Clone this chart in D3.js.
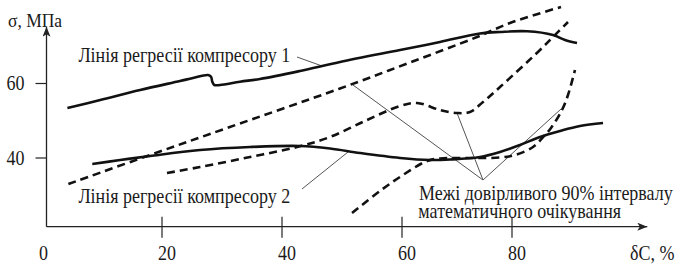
<!DOCTYPE html>
<html>
<head>
<meta charset="utf-8">
<script src="https://cdn.jsdelivr.net/npm/d3@7/dist/d3.min.js"></script>
<style>
  html, body { margin: 0; padding: 0; background: #fff; }
  svg { display: block; }
  text { font-family: "Liberation Serif", "Times New Roman", serif; fill: #1a1a1a; }
</style>
</head>
<body>
<svg id="chart" width="680" height="265"></svg>
<script>
// ---- data (x = δC, %, y = σ, МПа) ----
const xTickValues = [20, 40, 60, 80];
const xTickLabels = ["0", "20", "40", "60", "80"];
const xLabelValues = [0, 20, 40, 60, 80];
const yTickValues = [40, 60];
const yTickLabels = ["40", "60"];

const regression1 = [
  [3.62, 53.4], [9.31, 55.57], [16.21, 58.26], [23.0, 60.67], [25.17, 61.48],
  [27.67, 62.28], [28.17, 61.83], [28.38, 60.48], [28.72, 59.6], [29.67, 59.6],
  [33.0, 60.48], [36.33, 61.21], [43.0, 63.36], [49.67, 65.77], [59.67, 68.99],
  [66.91, 71.14], [74.18, 73.42], [77.82, 73.83], [82.73, 74.01], [87.45, 73.02],
  [89.64, 71.68], [91.82, 70.87]
];
const regression2 = [
  [7.93, 38.39], [12.76, 39.46], [17.93, 40.54], [26.33, 42.15], [34.67, 42.95],
  [43.0, 43.22], [48.0, 42.55], [53.0, 41.34], [59.67, 40.0], [65.09, 39.46],
  [68.73, 39.6], [74.18, 40.27], [77.82, 41.61], [81.45, 43.49], [85.09, 45.64],
  [88.73, 47.25], [92.36, 48.59], [96.55, 49.4]
];
const boundA = [
  [3.79, 33.02], [17.93, 40.81], [30.83, 48.05], [49.67, 58.66], [61.45, 65.64],
  [73.64, 72.48], [79.64, 76.24], [88.91, 80.54]
];
const boundB = [
  [20.83, 35.97], [26.33, 37.58], [34.67, 40.27], [42.5, 42.95], [48.0, 45.64],
  [54.17, 50.2], [59.67, 53.96], [62.73, 54.77], [66.91, 52.89], [70.0, 52.08],
  [72.36, 52.35], [74.73, 55.03], [77.82, 59.06], [85.09, 68.99], [87.27, 72.21],
  [90.18, 76.51]
];
const boundC = [
  [51.67, 25.23], [56.33, 31.14], [60.18, 35.44], [64.55, 39.19], [66.91, 39.87],
  [72.36, 40.0], [77.82, 40.13], [80.55, 40.81], [83.82, 42.95], [86.0, 46.17],
  [87.09, 48.05], [89.09, 52.89], [90.18, 56.91], [91.45, 63.62]
];

// leader lines: [from, to] in data units
const leaders = [
  [[42.5, 67.11], [46.67, 64.7]],
  [[43.33, 31.68], [51.0, 41.61]],
  [[74.73, 34.09], [51.83, 59.6]],
  [[74.73, 34.09], [70.0, 52.08]],
  [[74.73, 34.09], [88.91, 53.15]]
];
const label1 = "Лінія регресії компресору 1";
const label2 = "Лінія регресії компресору 2";
const label3Lines = ["Межі довірливого 90% інтервалу", "математичного очікування"];
const label1At = [5.52, 65.77];
const label2At = [5.52, 27.92];
const label3At = [63.1, 28.72];
const yAxisTitle = "σ, МПа";
const xAxisTitle = "δC, %";
const yAxisRange = [21.56, 75.25];
const xAxisEnd = 104.6;

// ---- scales ----
const svg = d3.select("#chart");
const x = d3.scaleLinear().domain([0, 20, 40, 60, 80, 100]).range([46.5, 162, 282, 402, 512, 622]);
const y = d3.scaleLinear().domain([20, 80]).range([232.5, 9]);

const axisColor = "#222";
const fs = 18, vStretch = 1.13;

// helper: text placed at (px, py) with slight vertical stretch like the scanned original
function addText(px, py, str, anchor, size) {
  return svg.append("text")
    .attr("transform", `translate(${px},${py}) scale(1,${vStretch})`)
    .attr("text-anchor", anchor || "start")
    .attr("font-size", size || fs)
    .text(str);
}

// arrow markers
const defs = svg.append("defs");
defs.append("marker").attr("id", "arrow").attr("viewBox", "0 0 10 8")
  .attr("refX", 10).attr("refY", 4).attr("markerWidth", 11).attr("markerHeight", 8)
  .attr("markerUnits", "userSpaceOnUse").attr("orient", "auto")
  .append("path").attr("d", "M0,0 L10,4 L0,8 L2.5,4 Z").attr("fill", axisColor);

// axes
svg.append("line")
  .attr("x1", x(0)).attr("y1", y(yAxisRange[0]))
  .attr("x2", x(0)).attr("y2", y(yAxisRange[1]))
  .attr("stroke", axisColor).attr("stroke-width", 1.3).attr("marker-end", "url(#arrow)");
svg.append("line")
  .attr("x1", x(0)).attr("y1", y(yAxisRange[0]))
  .attr("x2", x(xAxisEnd)).attr("y2", y(yAxisRange[0]))
  .attr("stroke", axisColor).attr("stroke-width", 1.3).attr("marker-end", "url(#arrow)");

// x ticks
svg.selectAll(".xt").data(xTickValues).enter().append("line")
  .attr("x1", d => x(d)).attr("x2", d => x(d))
  .attr("y1", y(yAxisRange[0]) - 10).attr("y2", y(yAxisRange[0]) + 11)
  .attr("stroke", axisColor).attr("stroke-width", 1.2);
xLabelValues.forEach((v, i) => addText(x(v) + (i === 0 ? -3 : 5), 260, xTickLabels[i], "middle"));

// y ticks
svg.selectAll(".yt").data(yTickValues).enter().append("line")
  .attr("x1", x(0) - 11).attr("x2", x(0))
  .attr("y1", d => y(d)).attr("y2", d => y(d))
  .attr("stroke", axisColor).attr("stroke-width", 1.2);
yTickValues.forEach((v, i) => addText(x(0) - 22, y(v) + 6.5, yTickLabels[i], "end"));

addText(8, 27, yAxisTitle, "start", 17.5);
addText(630, 260, xAxisTitle, "start");

// leader lines
svg.selectAll(".leader").data(leaders).enter().append("line")
  .attr("x1", d => x(d[0][0])).attr("y1", d => y(d[0][1]))
  .attr("x2", d => x(d[1][0])).attr("y2", d => y(d[1][1]))
  .attr("stroke", "#555").attr("stroke-width", 1);

// curves
const line = d3.line().x(d => x(d[0])).y(d => y(d[1])).curve(d3.curveCatmullRom.alpha(0.5));
[boundA, boundB, boundC].forEach(s => {
  svg.append("path").attr("d", line(s)).attr("fill", "none")
    .attr("stroke", "#111").attr("stroke-width", 2.6).attr("stroke-dasharray", "8,5");
});
[regression1, regression2].forEach(s => {
  svg.append("path").attr("d", line(s)).attr("fill", "none")
    .attr("stroke", "#111").attr("stroke-width", 2.6);
});

// labels
addText(x(label1At[0]), y(label1At[1]), label1, "start");
addText(x(label2At[0]), y(label2At[1]), label2, "start");
const t3 = svg.append("text")
  .attr("transform", `translate(${x(label3At[0])},${y(label3At[1])}) scale(1,${vStretch})`)
  .attr("font-size", fs);
label3Lines.forEach((s, i) => {
  t3.append("tspan").attr("x", i === 0 ? 0 : -0.7).attr("dy", i === 0 ? 0 : 16.2).text(s);
});
</script>
</body>
</html>
